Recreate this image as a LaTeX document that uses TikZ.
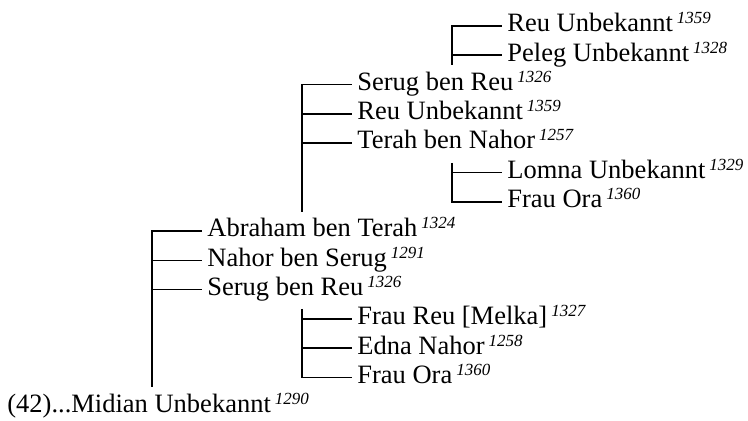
\documentclass[tikz,border=0pt]{standalone}
\usepackage{fontspec}
\setmainfont{Liberation Serif}
\usetikzlibrary{positioning}
\newcommand{\yr}[1]{\kern2pt\raisebox{4pt}{\fontsize{8.5}{10}\selectfont\itshape #1}}
\tikzset{
  person/.style={anchor=west,inner xsep=2.5pt,inner ysep=0pt,text height=0.8em,text depth=0.22em},
  link/.style={line width=0.8pt}
}

\begin{document}
\begin{tikzpicture}[x=0.5pt,y=-0.5pt,font=\fontsize{13.25}{15}\selectfont]
\useasboundingbox (0,0) rectangle (748,421);
\node[person] (reuA) at (502,26) {Reu Unbekannt\yr{1359}};
\node[person] (peleg) at (502,55.3) {Peleg Unbekannt\yr{1328}};
\node[person] (serugA) at (352,84.6) {Serug ben Reu\yr{1326}};
\node[person] (reuB) at (352,113.9) {Reu Unbekannt\yr{1359}};
\node[person] (terah) at (352,143.2) {Terah ben Nahor\yr{1257}};
\node[person] (lomna) at (502,172.5) {Lomna Unbekannt\yr{1329}};
\node[person] (oraA) at (502,201.8) {Frau Ora\yr{1360}};
\node[person] (abraham) at (202,231.1) {Abraham ben Terah\yr{1324}};
\node[person] (nahor) at (202,260.4) {Nahor ben Serug\yr{1291}};
\node[person] (serugB) at (202,289.7) {Serug ben Reu\yr{1326}};
\node[person] (melka) at (352,319) {Frau Reu [Melka]\yr{1327}};
\node[person] (edna) at (352,348.3) {Edna Nahor\yr{1258}};
\node[person] (oraB) at (352,377.6) {Frau Ora\yr{1360}};
\node[person] (midian) at (2,406.9) {(42)...Midian Unbekannt\yr{1290}};

% brackets
\coordinate (bA) at (452,65);
\draw[link] (bA) |- (reuA.west);
\draw[link] (bA |- peleg.west) -- (peleg.west);
\coordinate (bB) at (302,212);
\draw[link] (bB) |- (serugA.west);
\draw[link] (bB |- reuB.west) -- (reuB.west);
\draw[link] (bB |- terah.west) -- (terah.west);
\coordinate (bC) at (452,163);
\draw[link] (bC) |- (oraA.west);
\draw[link] (bC |- lomna.west) -- (lomna.west);
\coordinate (bD) at (152,387);
\draw[link] (bD) |- (abraham.west);
\draw[link] (bD |- nahor.west) -- (nahor.west);
\draw[link] (bD |- serugB.west) -- (serugB.west);
\coordinate (bE) at (302,309);
\draw[link] (bE) |- (oraB.west);
\draw[link] (bE |- melka.west) -- (melka.west);
\draw[link] (bE |- edna.west) -- (edna.west);
\end{tikzpicture}
\end{document}
